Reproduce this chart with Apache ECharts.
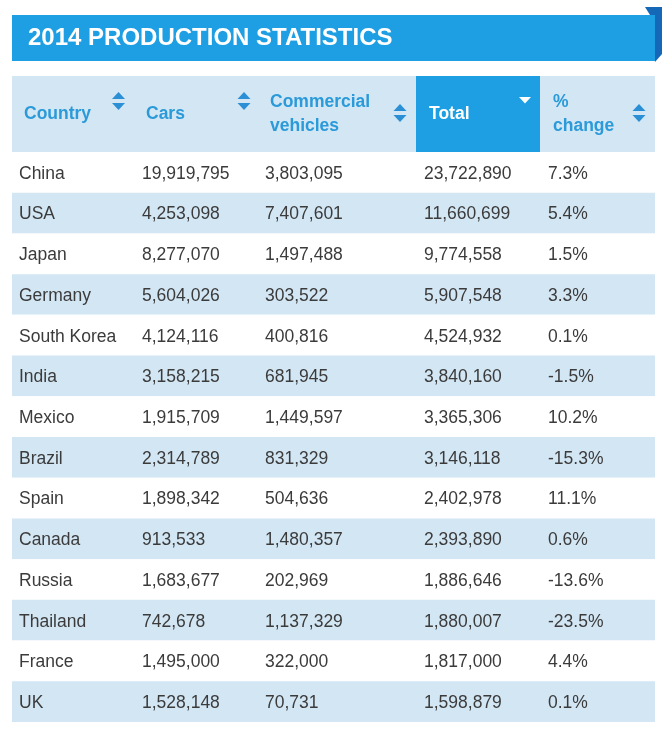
<!DOCTYPE html>
<html>
<head>
<meta charset="utf-8">
<script src="https://cdn.jsdelivr.net/npm/echarts@6/dist/echarts.min.js"></script>
<style>
html,body{margin:0;padding:0;background:#fff;}
#chart{width:662px;height:731px;}
</style>
</head>
<body>
<div id="chart"></div>
<script>
// ---- data ----
const titleText = '2014 PRODUCTION STATISTICS';
const headers = ['Country', 'Cars', 'Commercial\nvehicles', 'Total', '%\nchange'];
const countries = ['China','USA','Japan','Germany','South Korea','India','Mexico','Brazil','Spain','Canada','Russia','Thailand','France','UK'];
const cars = [19919795,4253098,8277070,5604026,4124116,3158215,1915709,2314789,1898342,913533,1683677,742678,1495000,1528148];
const commercial = [3803095,7407601,1497488,303522,400816,681945,1449597,831329,504636,1480357,202969,1137329,322000,70731];
const totals = [23722890,11660699,9774558,5907548,4524932,3840160,3365306,3146118,2402978,2393890,1886646,1880007,1817000,1598879];
const changes = [7.3,5.4,1.5,3.3,0.1,-1.5,10.2,-15.3,11.1,0.6,-13.6,-23.5,4.4,0.1];

// ---- layout / style ----
const FONT = '"Liberation Sans", Arial, sans-serif';
const BLUE = '#1f9fe3';
const LIGHT = '#d3e6f4';
const HEAD_TXT = '#2a9ad9';
const ICON = '#2b8fd6';
const TXT = '#3b3b3b';
const L = 12, R = 655, HEAD_TOP = 76, HEAD_BOT = 152, BODY_BOT = 722;
const colText = [19, 142, 265, 424, 548];
const headX = [24, 146, 270, 429, 553];

const chart = echarts.init(document.getElementById('chart'), null, {renderer: 'canvas'});

const fmt = v => v.toLocaleString('en-US');

function sortIcon(cx, cy, color) {
  return [
    {type: 'polygon', shape: {points: [[cx - 6.5, cy - 2], [cx + 6.5, cy - 2], [cx, cy - 9]]}, style: {fill: color}},
    {type: 'polygon', shape: {points: [[cx - 6.5, cy + 2], [cx + 6.5, cy + 2], [cx, cy + 9]]}, style: {fill: color}}
  ];
}

const graphics = [
  // ribbon fold
  {type: 'polygon', shape: {points: [[645, 7], [662, 7], [662, 54], [655, 62], [650, 15]]}, style: {fill: '#1568b8'}},
  {type: 'rect', shape: {x: L, y: 15, width: R - L, height: 46}, style: {fill: BLUE}},
  {type: 'text', x: 28, y: 38.5, style: {text: titleText, fill: '#fff', font: 'bold 24px ' + FONT, textVerticalAlign: 'middle'}},
  // header
  {type: 'rect', shape: {x: L, y: HEAD_TOP, width: R - L, height: HEAD_BOT - HEAD_TOP}, style: {fill: LIGHT}},
  {type: 'rect', shape: {x: 416, y: HEAD_TOP, width: 124, height: HEAD_BOT - HEAD_TOP}, style: {fill: BLUE}}
];
headers.forEach((h, i) => {
  graphics.push({type: 'text', x: headX[i], y: 114.5, style: {
    text: h, fill: i === 3 ? '#fff' : HEAD_TXT, font: 'bold 17.5px ' + FONT,
    textVerticalAlign: 'middle', lineHeight: 24}});
});
graphics.push(...sortIcon(118.5, 101, ICON));
graphics.push(...sortIcon(244, 101, ICON));
graphics.push(...sortIcon(400, 113, ICON));
graphics.push(...sortIcon(639, 113, ICON));
graphics.push({type: 'polygon', shape: {points: [[519, 97], [531, 97], [525, 103.5]]}, style: {fill: '#fff'}});
graphics.forEach(g => { g.z = 1; });

const seriesData = countries.map((c, i) => [0, c, cars[i], commercial[i], totals[i], changes[i]]);

chart.setOption({
  animation: false,
  grid: {left: L, right: 662 - R, top: HEAD_BOT, bottom: 731 - BODY_BOT},
  xAxis: {type: 'value', min: 0, max: 1, show: false},
  yAxis: {type: 'category', data: countries, inverse: true, show: false},
  graphic: graphics,
  series: [{
    type: 'custom',
    coordinateSystem: 'cartesian2d',
    encode: {x: 0, y: 1},
    data: seriesData,
    renderItem: function (params, api) {
      const idx = params.dataIndex;
      const cs = params.coordSys;
      const center = api.coord([0, api.value(1)]);
      const band = api.size([0, 1])[1];
      const top = center[1] - band / 2;
      const texts = [
        countries[idx],
        fmt(api.value(2)),
        fmt(api.value(3)),
        fmt(api.value(4)),
        api.value(5).toFixed(1) + '%'
      ];
      const children = [{
        type: 'rect',
        shape: {x: cs.x, y: top, width: cs.width, height: band},
        style: {fill: idx % 2 === 1 ? LIGHT : '#fff'}
      }];
      texts.forEach((t, k) => {
        children.push({
          type: 'text', x: colText[k], y: center[1] + 1.5,
          style: {text: t, fill: TXT, font: '17.5px ' + FONT, textVerticalAlign: 'middle'}
        });
      });
      return {type: 'group', children: children};
    }
  }]
});
</script>
</body>
</html>
